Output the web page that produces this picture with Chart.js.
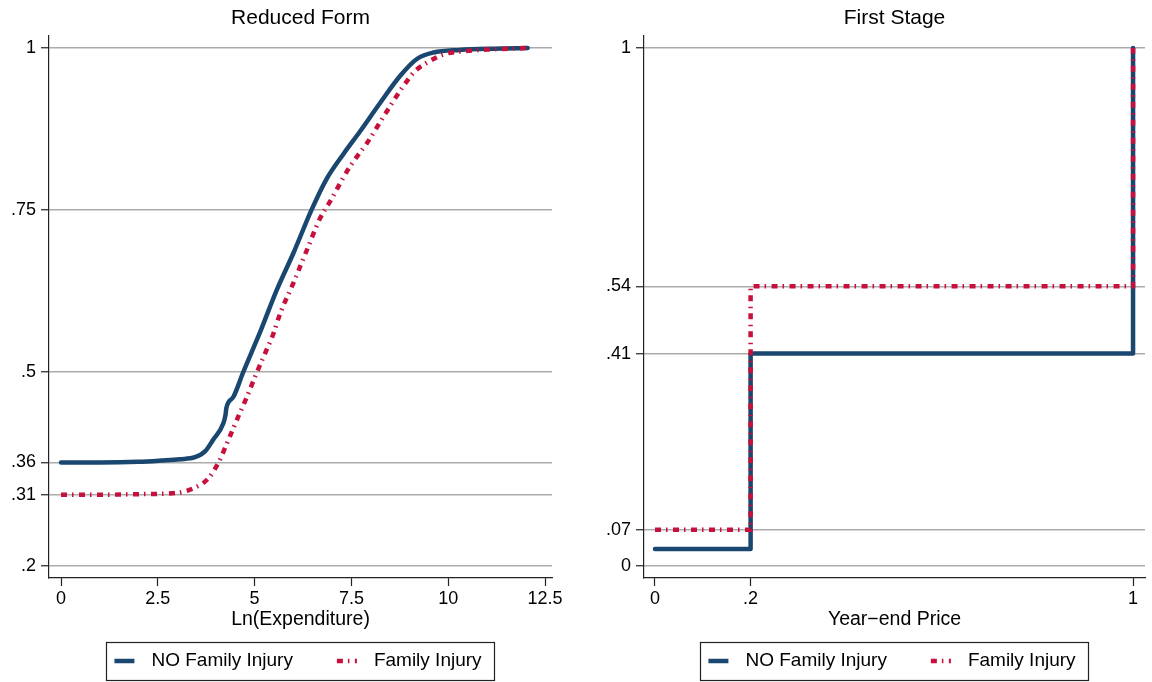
<!DOCTYPE html>
<html>
<head>
<meta charset="utf-8">
<script src="https://cdn.jsdelivr.net/npm/chart.js@4.4.1/dist/chart.umd.min.js"></script>
<style>
  html, body { margin: 0; padding: 0; background: #fff; }
  #wrap { position: relative; width: 1152px; height: 682px; }
  .panel { position: absolute; top: 0; width: 576px; height: 682px; }
</style>
</head>
<body>
<div id="wrap">
  <div class="panel" style="left:0"><canvas id="chart-reduced" width="576" height="682"></canvas></div>
  <div class="panel" style="left:576px"><canvas id="chart-first" width="576" height="682"></canvas></div>
</div>
<script>
const FONT = "'Liberation Sans', Arial, Helvetica, sans-serif";
const BLUE = '#1a476f';
const RED = '#c8103c';
const seriesLabels = ['NO Family Injury', 'Family Injury'];

// Reduced form: share by Ln(Expenditure)
const rfNoInjuryX = [0, 1, 2, 2.6, 3.07, 3.46, 3.72, 3.93, 4.19, 4.25, 4.27, 4.45, 4.71, 4.97, 5.16, 5.57, 6.0, 6.47, 6.86, 7.29, 7.72, 8.24, 8.76, 9.19, 9.62, 10.3, 11.16, 12.05];
const rfNoInjuryY = [.36, .36, .361, .363, .365, .368, .377, .395, .420, .434, .444, .461, .500, .537, .564, .626, .683, .750, .798, .836, .871, .915, .957, .983, .993, .997, .999, 1];
const rfInjuryX = [0, 1, 2, 3, 3.42, 3.80, 4.06, 4.36, 4.58, 4.80, 5.05, 5.31, 5.48, 5.66, 6.0, 6.35, 6.69, 6.95, 7.38, 7.64, 7.9, 8.37, 8.84, 9.14, 9.53, 9.87, 10.39, 11.16, 12.05];
const rfInjuryY = [.31, .31, .311, .313, .32, .335, .359, .40, .431, .461, .498, .534, .558, .590, .637, .688, .737, .763, .809, .832, .853, .898, .941, .964, .980, .990, .995, .998, 1];
const rfXTicks = [0, 2.5, 5, 7.5, 10, 12.5];
const rfYTicks = [.2, .31, .36, .5, .75, 1];

// First stage: share by year-end price (step)
const fsPriceX = [0, .2, 1];
const fsNoInjuryY = [.033, .41, 1];
const fsInjuryY = [.07, .54, 1];
const fsXTicks = [0, .2, 1];
const fsYTicks = [0, .07, .41, .54, 1];

const zip = (xs, ys) => xs.map((x, i) => ({ x, y: ys[i] }));
const fmt = (v) => v === 0 ? '0' : String(v).replace(/^0\./, '.');

// stata-like legend: framed, centred under the plot region
const boxLegend = {
  id: 'boxLegend',
  afterDraw(chart) {
    const { ctx, chartArea } = chart;
    const sampleW = 20, gapText = 17, gapItem = 44, padL = 8, padR = 13;
    ctx.save();
    ctx.font = `19px ${FONT}`;
    const items = chart.data.datasets.map(ds => ({ ds, w: ctx.measureText(ds.label).width }));
    let total = padL + padR + gapItem * (items.length - 1);
    items.forEach(it => { total += sampleW + gapText + it.w; });
    const left = (chartArea.left + chartArea.right) / 2 - total / 2;
    const top = 642, h = 38, cy = top + h / 2;

    ctx.strokeStyle = '#222';
    ctx.lineWidth = 1.2;
    ctx.strokeRect(Math.round(left) + .5, top + .5, Math.round(total), h);

    let x = left + padL;
    items.forEach(({ ds, w }) => {
      ctx.beginPath();
      ctx.setLineDash(ds.borderDash || []);
      ctx.lineWidth = ds.borderWidth;
      ctx.strokeStyle = ds.borderColor;
      ctx.lineCap = 'butt';
      ctx.moveTo(x, cy);
      ctx.lineTo(x + sampleW, cy);
      ctx.stroke();
      ctx.setLineDash([]);
      x += sampleW + gapText;
      ctx.fillStyle = '#000';
      ctx.textBaseline = 'middle';
      ctx.textAlign = 'left';
      ctx.fillText(ds.label, x, cy);
      x += w + gapItem;
    });
    ctx.restore();
  }
};

function lineSets(noInjury, injury, extra) {
  return [
    {
      label: seriesLabels[0],
      data: noInjury,
      borderColor: BLUE,
      borderWidth: 4.5,
      borderCapStyle: 'round',
      borderJoinStyle: 'round',
      order: 1,
      ...extra
    },
    {
      label: seriesLabels[1],
      data: injury,
      borderColor: RED,
      borderWidth: 4.5,
      borderDash: [6, 5, 1.5, 5.5],
      borderCapStyle: 'butt',
      order: 0,
      ...extra
    }
  ];
}

function panelOptions({ title, xTitle, xTicks, yTicks, xRange, yRange, yWidth, padRight }) {
  const tickFont = { family: FONT, size: 18 };
  return {
    responsive: false,
    animation: false,
    events: [],
    elements: { point: { radius: 0, hoverRadius: 0 }, line: { fill: false } },
    layout: { padding: { top: 0, left: 0, right: padRight, bottom: 49 } },
    plugins: {
      legend: { display: false },
      tooltip: { enabled: false },
      title: {
        display: true,
        text: title,
        fullSize: false,
        color: '#000',
        font: { family: FONT, size: 21, weight: 'normal' },
        padding: { top: 6, bottom: 4.8 }
      }
    },
    scales: {
      x: {
        type: 'linear',
        min: xRange[0],
        max: xRange[1],
        afterBuildTicks: s => { s.ticks = xTicks.map(value => ({ value })); },
        afterFit: s => { s.height = 55; },
        ticks: { color: '#000', font: tickFont, padding: 2, autoSkip: false, maxRotation: 0, callback: fmt },
        grid: { drawOnChartArea: false, drawTicks: true, tickLength: 8, tickColor: '#222', tickWidth: 1.2 },
        border: { display: true, color: '#222', width: 1.2 },
        title: { display: true, text: xTitle, color: '#000', font: { family: FONT, size: 19.5 }, padding: { top: 0, bottom: 1.3 } }
      },
      y: {
        type: 'linear',
        min: yRange[0],
        max: yRange[1],
        afterBuildTicks: s => { s.ticks = yTicks.map(value => ({ value })); },
        afterFit: s => { s.width = yWidth; },
        ticks: { color: '#000', font: tickFont, padding: 5, autoSkip: false, callback: fmt },
        grid: { color: '#ababab', lineWidth: 1.5, drawTicks: true, tickLength: 8, tickColor: '#222', tickWidth: 1.2 },
        border: { display: true, color: '#222', width: 1.2 }
      }
    }
  };
}

new Chart(document.getElementById('chart-reduced'), {
  type: 'line',
  data: {
    datasets: lineSets(zip(rfNoInjuryX, rfNoInjuryY), zip(rfInjuryX, rfInjuryY), { cubicInterpolationMode: 'monotone' })
  },
  options: panelOptions({
    title: 'Reduced Form',
    xTitle: 'Ln(Expenditure)',
    xTicks: rfXTicks,
    yTicks: rfYTicks,
    xRange: [-0.31, 12.68],
    yRange: [0.1815, 1.0185],
    yWidth: 49,
    padRight: 24
  }),
  plugins: [boxLegend]
});

// 'before' in Chart.js keeps the old level up to the next x, then rises
new Chart(document.getElementById('chart-first'), {
  type: 'line',
  data: {
    datasets: lineSets(zip(fsPriceX, fsNoInjuryY), zip(fsPriceX, fsInjuryY), { stepped: 'before' })
  },
  options: panelOptions({
    title: 'First Stage',
    xTitle: 'Year\u2212end Price',
    xTicks: fsXTicks,
    yTicks: fsYTicks,
    xRange: [-0.023, 1.025],
    yRange: [-0.0232, 1.0232],
    yWidth: 68,
    padRight: 7
  }),
  plugins: [boxLegend]
});
</script>
</body>
</html>
